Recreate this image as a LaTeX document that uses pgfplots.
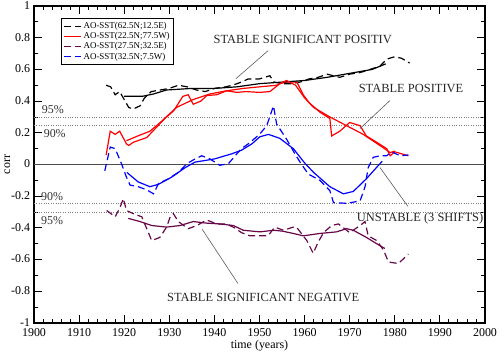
\documentclass[border=0pt]{standalone}
\usepackage{pgfplots}
\pgfplotsset{compat=1.18}
\usepackage{fontspec}
\setmainfont{Liberation Serif}

\definecolor{grmaroon}{RGB}{103,7,72}
\definecolor{annot}{RGB}{90,90,90}

\begin{document}
\begin{tikzpicture}
\begin{axis}[
  scale only axis,
  width=451bp, height=317bp,
  xmin=1900, xmax=2000, ymin=-1, ymax=1,
  xtick distance=10, ytick distance=0.2,
  minor x tick num=4, minor y tick num=1,
  tick align=inside,
  major tick length=8bp, minor tick length=4bp,
  axis line style={line width=1.1pt},
  every tick/.style={black, line width=0.9pt},
  /pgf/number format/assume math mode=true,
  /pgf/number format/.cd, fixed, precision=1, use period, 1000 sep={},
  /pgfplots/.cd,
  tick label style={font=\fontsize{12}{14}\selectfont},
  xticklabel style={yshift=-2bp},
  yticklabel style={xshift=-0.5bp, yshift=0.5bp},
  xlabel={time (years)},
  ylabel={corr},
  label style={font=\fontsize{12}{14}\selectfont},
  xlabel style={yshift=3bp},
  ylabel style={yshift=-6bp},
  legend style={at={(rel axis cs:0.06,0.962)}, anchor=north west,
    draw=black, line width=0.6pt, fill=white,
    font=\fontsize{9}{10}\selectfont,
    row sep=-1.5bp, inner sep=2bp},
  legend cell align=left,
  clip=false,
]
% significance levels
\draw[gray, line width=0.6pt, dash pattern=on 0.8bp off 1.6bp] (axis cs:1900,0.30) -- (axis cs:2000,0.30);
\draw[gray, line width=0.6pt, dash pattern=on 0.8bp off 1.6bp] (axis cs:1900,0.245) -- (axis cs:2000,0.245);
\draw[gray, line width=0.6pt, dash pattern=on 0.8bp off 1.6bp] (axis cs:1900,-0.245) -- (axis cs:2000,-0.245);
\draw[gray, line width=0.6pt, dash pattern=on 0.8bp off 1.6bp] (axis cs:1900,-0.30) -- (axis cs:2000,-0.30);
\draw[gray!60!black, line width=1.1pt] (axis cs:1900,0) -- (axis cs:2000,0);

\begin{scope}[font=\fontsize{12}{14}\selectfont, text=black!80]
\node at (axis cs:1904.2,0.345) {95\%};
\node at (axis cs:1904.6,0.195) {90\%};
\node at (axis cs:1904.0,-0.20) {90\%};
\node at (axis cs:1904.0,-0.355) {95\%};
\end{scope}

% raw correlations
\addplot[black, line width=1.2pt, dash pattern=on 7bp off 4bp] coordinates {
 (1916.0,0.50) (1917.0,0.49) (1918.0,0.44) (1919.0,0.46) (1920.0,0.41)
 (1921.0,0.36) (1922.0,0.35) (1923.5,0.37) (1924.5,0.42) (1926.0,0.46)
 (1928.0,0.47) (1930.0,0.48) (1932.0,0.50) (1934.0,0.49) (1936.0,0.47)
 (1938.0,0.46) (1940.0,0.48) (1942.5,0.49) (1944.0,0.50) (1946.0,0.52)
 (1947.5,0.54) (1950.0,0.54) (1952.3,0.56) (1953.2,0.52) (1955.0,0.51)
 (1957.0,0.51) (1959.0,0.52) (1961.0,0.54) (1963.0,0.55) (1965.0,0.57)
 (1967.8,0.55) (1970.0,0.57) (1972.3,0.58) (1974.5,0.60) (1976.7,0.62)
 (1978.2,0.665) (1980.0,0.68) (1981.5,0.67) (1983.3,0.64)};
\addlegendentry{AO-SST(62.5N;12.5E)}

\addplot[red, line width=1.2pt] coordinates {
 (1916.0,0.06) (1916.9,0.21) (1918.0,0.19) (1919.0,0.21) (1920.5,0.13)
 (1921.0,0.12) (1922.0,0.14) (1925.0,0.17) (1927.0,0.23) (1929.0,0.29)
 (1931.0,0.34) (1933.0,0.43) (1934.2,0.44) (1935.3,0.38) (1937.0,0.40)
 (1938.3,0.435) (1940.5,0.44) (1942.7,0.465) (1945.0,0.455) (1947.0,0.46)
 (1950.0,0.455) (1952.3,0.46) (1954.5,0.51) (1956.0,0.52) (1958.3,0.52)
 (1959.7,0.44) (1961.0,0.39) (1963.4,0.33) (1965.6,0.29) (1966.0,0.18)
 (1967.8,0.21) (1970.0,0.265) (1972.3,0.245) (1973.7,0.18) (1976.0,0.14)
 (1978.2,0.10) (1979.0,0.055) (1980.0,0.08) (1983.0,0.055)};
\addlegendentry{AO-SST(22.5N;77.5W)}

\addplot[grmaroon, line width=1.2pt, dash pattern=on 7bp off 4bp] coordinates {
 (1916.1,-0.29) (1918.0,-0.33) (1919.1,-0.27) (1919.8,-0.215) (1920.5,-0.29)
 (1922.0,-0.31) (1923.9,-0.33) (1925.0,-0.405) (1926.1,-0.48) (1927.9,-0.46)
 (1929.4,-0.395) (1930.2,-0.33) (1930.9,-0.31) (1932.0,-0.36) (1934.2,-0.405)
 (1936.1,-0.385) (1938.3,-0.35) (1940.5,-0.375) (1942.7,-0.375) (1944.5,-0.40)
 (1946.0,-0.43) (1947.9,-0.45) (1950.1,-0.45) (1951.9,-0.45) (1953.4,-0.395)
 (1955.3,-0.415) (1957.5,-0.395) (1958.2,-0.395) (1960.5,-0.48) (1961.9,-0.56)
 (1963.0,-0.49) (1964.2,-0.43) (1966.0,-0.385) (1967.5,-0.375) (1970.0,-0.43)
 (1972.3,-0.385) (1973.4,-0.36) (1974.1,-0.45) (1976.0,-0.48) (1977.5,-0.54)
 (1978.6,-0.615) (1980.8,-0.625) (1981.9,-0.595) (1983.0,-0.565)};
\addlegendentry{AO-SST(27.5N;32.5E)}

\addplot[blue, line width=1.2pt, dash pattern=on 7bp off 4bp] coordinates {
 (1915.7,-0.04) (1916.9,0.11) (1918.0,0.10) (1919.4,0.005) (1920.5,-0.08)
 (1921.3,-0.13) (1923.1,-0.14) (1925.0,-0.16) (1926.5,-0.185) (1927.6,-0.12)
 (1929.8,-0.09) (1932.0,-0.05) (1933.9,0.005) (1935.7,0.035) (1937.2,0.055)
 (1939.0,0.035) (1941.2,-0.005) (1943.1,0.005) (1944.6,0.055) (1946.0,0.10)
 (1947.5,0.13) (1950.0,0.19) (1951.6,0.245) (1953.1,0.37) (1953.8,0.255)
 (1956.0,0.16) (1957.9,0.065) (1959.0,0.015) (1960.8,-0.06) (1963.4,-0.10)
 (1965.6,-0.165) (1966.4,-0.24) (1969.3,-0.245) (1972.3,-0.23) (1973.4,-0.14)
 (1974.1,-0.02) (1975.2,0.045) (1976.7,0.055) (1978.2,0.055) (1979.3,0.08)
 (1981.2,0.055) (1983.0,0.06)};
\addlegendentry{AO-SST(32.5N;7.5W)}

% smoothed correlations
\addplot[black, line width=1.2pt, forget plot] coordinates {
 (1920.0,0.43) (1924.0,0.43) (1926.5,0.445) (1929.4,0.47) (1935.0,0.48)
 (1940.0,0.48) (1945.0,0.49) (1950.0,0.51) (1955.0,0.52) (1960.0,0.53)
 (1965.0,0.55) (1970.0,0.575) (1975.0,0.60) (1978.0,0.635)};

\addplot[red, line width=1.2pt, forget plot] coordinates {
 (1920.5,0.15) (1923.0,0.18) (1925.7,0.21) (1928.0,0.265) (1931.6,0.36)
 (1935.3,0.41) (1939.0,0.445) (1942.7,0.465) (1946.4,0.48) (1950.0,0.49)
 (1953.8,0.50) (1956.0,0.53) (1958.0,0.50) (1960.0,0.42) (1962.0,0.36)
 (1965.6,0.30) (1969.3,0.245) (1973.0,0.19) (1976.7,0.12) (1979.0,0.075)
 (1980.0,0.085)};

\addplot[grmaroon, line width=1.2pt, forget plot] coordinates {
 (1920.9,-0.34) (1923.5,-0.36) (1926.1,-0.385) (1929.4,-0.395) (1932.4,-0.385)
 (1935.3,-0.36) (1938.3,-0.37) (1941.2,-0.375) (1944.2,-0.385) (1946.4,-0.415)
 (1950.1,-0.425) (1953.1,-0.415) (1955.0,-0.42) (1957.5,-0.435) (1959.7,-0.45)
 (1963.4,-0.435) (1967.1,-0.425) (1969.3,-0.405) (1970.8,-0.415) (1973.7,-0.46)
 (1976.0,-0.50) (1977.8,-0.53)};

\addplot[blue, line width=1.2pt, forget plot] coordinates {
 (1920.6,-0.05) (1923.1,-0.11) (1925.7,-0.14) (1927.6,-0.125) (1930.5,-0.08)
 (1933.5,-0.02) (1935.7,0.015) (1940.0,0.035) (1943.8,0.067) (1946.0,0.09)
 (1948.3,0.13) (1950.1,0.175) (1952.0,0.19) (1954.5,0.165) (1957.5,0.10)
 (1960.0,0.01) (1962.0,-0.05) (1965.6,-0.14) (1968.6,-0.185) (1970.8,-0.17)
 (1973.7,-0.09) (1976.7,0.005) (1977.2,0.02)};

% annotations
\begin{scope}[annot, line width=0.6pt]
\draw (axis cs:1951.9,0.718) -- (axis cs:1944.8,0.542);
\draw (axis cs:1978.9,0.403) -- (axis cs:1972.3,0.227);
\draw (axis cs:1976.7,-0.019) -- (axis cs:1982.9,-0.264);
\draw (axis cs:1937.3,-0.409) -- (axis cs:1945.2,-0.75);
\end{scope}
\begin{scope}[font=\fontsize{12.5}{14}\selectfont, text=black!85]
\node at (axis cs:1959.6,0.79) {STABLE SIGNIFICANT POSITIV};
\node at (axis cs:1983.6,0.479) {STABLE POSITIVE};
\node at (axis cs:1985.6,-0.34) {UNSTABLE (3 SHIFTS)};
\node at (axis cs:1950.8,-0.837) {STABLE SIGNIFICANT NEGATIVE};
\end{scope}
\end{axis}
\pgfresetboundingbox
\path[use as bounding box] ([shift={(-34bp,-30bp)}]current axis.south west) rectangle ([shift={(19bp,6bp)}]current axis.north east);
\end{tikzpicture}
\end{document}
